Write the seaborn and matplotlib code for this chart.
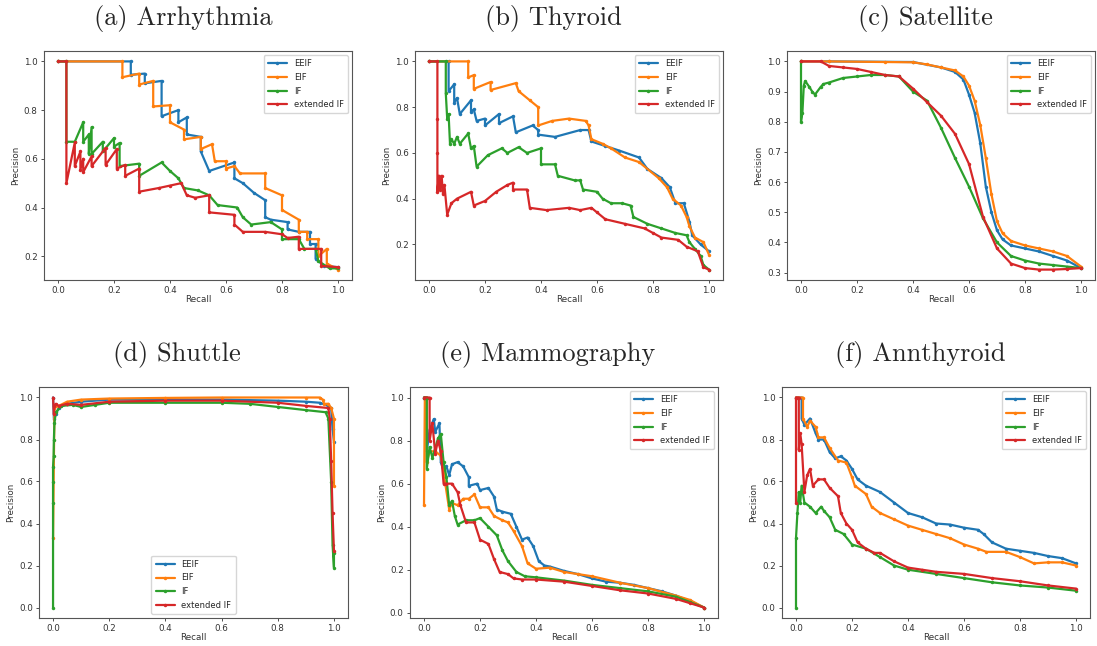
import numpy as np
import pandas as pd
import matplotlib
matplotlib.use("Agg")
import matplotlib.pyplot as plt
import seaborn as sns

sns.set_style("ticks")
plt.rcParams["font.family"] = ["DejaVu Sans"]

methods = ["EEIF", "EIF", "IF", "extended IF"]
titles = ["(a) Arrhythmia", "(b) Thyroid", "(c) Satellite",
          "(d) Shuttle", "(e) Mammography", "(f) Annthyroid"]

# ---------------- (a) Arrhythmia ----------------
arr_eeif_r = [0, 0.26, 0.26, 0.31, 0.31, 0.37, 0.37, 0.43, 0.43, 0.46, 0.46, 0.51, 0.51, 0.54, 0.63, 0.63, 0.66, 0.70, 0.74, 0.74, 0.76, 0.82, 0.82, 0.86, 0.90, 0.90, 0.92, 0.92, 0.95, 1.0]
arr_eeif_p = [1, 1, 0.945, 0.95, 0.91, 0.92, 0.775, 0.80, 0.75, 0.77, 0.70, 0.69, 0.63, 0.55, 0.585, 0.52, 0.50, 0.46, 0.43, 0.36, 0.35, 0.34, 0.31, 0.30, 0.30, 0.25, 0.25, 0.19, 0.16, 0.155]
arr_eif_r = [0, 0.23, 0.23, 0.29, 0.29, 0.34, 0.34, 0.40, 0.40, 0.45, 0.45, 0.51, 0.51, 0.55, 0.56, 0.60, 0.60, 0.63, 0.65, 0.74, 0.74, 0.80, 0.80, 0.86, 0.86, 0.89, 0.89, 0.93, 0.93, 0.96, 0.96, 1.0]
arr_eif_p = [1, 1, 0.935, 0.95, 0.905, 0.92, 0.815, 0.82, 0.75, 0.72, 0.68, 0.69, 0.64, 0.66, 0.59, 0.59, 0.56, 0.57, 0.54, 0.54, 0.48, 0.45, 0.39, 0.35, 0.30, 0.30, 0.27, 0.27, 0.20, 0.23, 0.17, 0.145]
arr_if_r = [0, 0.03, 0.03, 0.06, 0.09, 0.09, 0.11, 0.11, 0.12, 0.12, 0.16, 0.16, 0.20, 0.20, 0.22, 0.22, 0.29, 0.29, 0.37, 0.40, 0.43, 0.45, 0.50, 0.54, 0.57, 0.64, 0.66, 0.69, 0.76, 0.80, 0.80, 0.86, 0.88, 0.92, 0.93, 0.97, 1.0]
arr_if_p = [1, 1, 0.67, 0.67, 0.75, 0.67, 0.70, 0.62, 0.73, 0.62, 0.67, 0.63, 0.685, 0.65, 0.665, 0.57, 0.58, 0.53, 0.585, 0.55, 0.52, 0.48, 0.47, 0.45, 0.41, 0.40, 0.36, 0.33, 0.34, 0.31, 0.27, 0.27, 0.23, 0.23, 0.18, 0.15, 0.15]
arr_ext_r = [0, 0.03, 0.03, 0.06, 0.06, 0.08, 0.08, 0.09, 0.09, 0.12, 0.12, 0.17, 0.17, 0.21, 0.21, 0.24, 0.24, 0.29, 0.29, 0.36, 0.40, 0.44, 0.46, 0.49, 0.54, 0.54, 0.63, 0.63, 0.66, 0.74, 0.80, 0.82, 0.86, 0.86, 0.94, 0.94, 1.0]
arr_ext_p = [1, 1, 0.5, 0.667, 0.57, 0.63, 0.555, 0.60, 0.545, 0.61, 0.57, 0.645, 0.575, 0.64, 0.56, 0.575, 0.53, 0.56, 0.465, 0.48, 0.49, 0.50, 0.45, 0.44, 0.45, 0.38, 0.37, 0.33, 0.30, 0.30, 0.29, 0.275, 0.28, 0.23, 0.23, 0.16, 0.155]

# ---------------- (b) Thyroid ----------------
thy_eeif_r = [0, 0.07, 0.07, 0.09, 0.09, 0.10, 0.11, 0.15, 0.15, 0.16, 0.17, 0.20, 0.20, 0.25, 0.25, 0.30, 0.31, 0.37, 0.39, 0.39, 0.45, 0.54, 0.57, 0.58, 0.63, 0.68, 0.75, 0.78, 0.83, 0.86, 0.88, 0.91, 0.93, 0.94, 0.97, 1.0]
thy_eeif_p = [1, 1, 0.87, 0.90, 0.82, 0.84, 0.77, 0.83, 0.78, 0.79, 0.74, 0.75, 0.72, 0.77, 0.73, 0.76, 0.69, 0.72, 0.70, 0.68, 0.67, 0.70, 0.70, 0.65, 0.63, 0.61, 0.58, 0.53, 0.49, 0.45, 0.38, 0.38, 0.30, 0.24, 0.20, 0.17]
thy_eif_r = [0, 0.14, 0.14, 0.16, 0.16, 0.22, 0.22, 0.31, 0.32, 0.36, 0.39, 0.39, 0.44, 0.50, 0.56, 0.57, 0.58, 0.62, 0.65, 0.70, 0.75, 0.82, 0.85, 0.87, 0.90, 0.92, 0.93, 0.95, 0.98, 1.0]
thy_eif_p = [1, 1, 0.93, 0.94, 0.88, 0.91, 0.875, 0.905, 0.87, 0.83, 0.80, 0.72, 0.74, 0.75, 0.74, 0.72, 0.66, 0.64, 0.62, 0.58, 0.56, 0.49, 0.45, 0.40, 0.37, 0.32, 0.28, 0.23, 0.21, 0.155]
thy_if_r = [0, 0.06, 0.06, 0.065, 0.07, 0.075, 0.08, 0.09, 0.10, 0.11, 0.14, 0.15, 0.16, 0.17, 0.21, 0.26, 0.28, 0.32, 0.35, 0.40, 0.40, 0.45, 0.46, 0.52, 0.54, 0.55, 0.60, 0.62, 0.65, 0.69, 0.72, 0.73, 0.78, 0.83, 0.88, 0.92, 0.93, 0.95, 0.97, 0.98, 1.0]
thy_if_p = [1, 1, 0.86, 0.75, 0.77, 0.64, 0.66, 0.64, 0.67, 0.64, 0.685, 0.62, 0.63, 0.54, 0.59, 0.62, 0.60, 0.625, 0.60, 0.62, 0.55, 0.55, 0.50, 0.48, 0.48, 0.44, 0.43, 0.40, 0.38, 0.38, 0.37, 0.32, 0.29, 0.27, 0.25, 0.24, 0.21, 0.18, 0.15, 0.11, 0.09]
thy_ext_r = [0, 0.03, 0.03, 0.03, 0.03, 0.035, 0.04, 0.045, 0.05, 0.055, 0.065, 0.08, 0.10, 0.15, 0.16, 0.20, 0.24, 0.28, 0.30, 0.30, 0.35, 0.36, 0.42, 0.50, 0.54, 0.58, 0.60, 0.63, 0.70, 0.77, 0.80, 0.83, 0.89, 0.92, 0.96, 0.98, 1.0]
thy_ext_p = [1, 1, 0.75, 0.60, 0.43, 0.50, 0.44, 0.50, 0.42, 0.46, 0.33, 0.38, 0.40, 0.43, 0.37, 0.39, 0.43, 0.46, 0.47, 0.44, 0.44, 0.36, 0.35, 0.36, 0.35, 0.36, 0.34, 0.31, 0.29, 0.27, 0.25, 0.23, 0.22, 0.19, 0.17, 0.10, 0.09]

# ---------------- (c) Satellite ----------------
sat_eeif_r = [0, 0.10, 0.40, 0.50, 0.55, 0.58, 0.60, 0.62, 0.64, 0.66, 0.68, 0.70, 0.72, 0.75, 0.80, 0.85, 0.90, 0.95, 1.0]
sat_eeif_p = [1.0, 1.0, 0.998, 0.98, 0.965, 0.94, 0.89, 0.83, 0.73, 0.585, 0.50, 0.44, 0.41, 0.39, 0.38, 0.37, 0.355, 0.34, 0.315]
sat_eif_r = [0, 0.10, 0.30, 0.40, 0.45, 0.50, 0.55, 0.58, 0.60, 0.62, 0.64, 0.66, 0.68, 0.70, 0.72, 0.75, 0.80, 0.85, 0.90, 0.95, 1.0]
sat_eif_p = [1.0, 1.0, 0.998, 0.997, 0.99, 0.98, 0.97, 0.95, 0.92, 0.87, 0.79, 0.68, 0.56, 0.47, 0.43, 0.405, 0.39, 0.38, 0.37, 0.355, 0.32]
sat_if_r = [0, 0, 0.005, 0.01, 0.015, 0.03, 0.04, 0.05, 0.07, 0.08, 0.10, 0.15, 0.20, 0.25, 0.30, 0.35, 0.40, 0.45, 0.50, 0.55, 0.60, 0.65, 0.70, 0.75, 0.80, 0.85, 0.90, 0.95, 1.0]
sat_if_p = [1.0, 0.80, 0.83, 0.92, 0.935, 0.915, 0.90, 0.89, 0.915, 0.925, 0.93, 0.945, 0.95, 0.955, 0.955, 0.95, 0.90, 0.87, 0.78, 0.68, 0.585, 0.48, 0.40, 0.355, 0.34, 0.33, 0.325, 0.32, 0.315]
sat_ext_r = [0, 0.07, 0.10, 0.15, 0.20, 0.25, 0.30, 0.35, 0.40, 0.45, 0.50, 0.55, 0.60, 0.65, 0.70, 0.75, 0.80, 0.85, 0.90, 0.95, 1.0]
sat_ext_p = [1.0, 1.0, 0.985, 0.98, 0.975, 0.965, 0.955, 0.95, 0.91, 0.865, 0.82, 0.76, 0.66, 0.485, 0.38, 0.33, 0.315, 0.31, 0.31, 0.312, 0.315]

# ---------------- (d) Shuttle ----------------
shu_eeif_r = [0, 0.003, 0.01, 0.02, 0.05, 0.10, 0.20, 0.40, 0.60, 0.80, 0.90, 0.95, 0.98, 0.99, 0.995, 1.0]
shu_eeif_p = [1.0, 0.90, 0.92, 0.95, 0.97, 0.98, 0.99, 0.99, 0.99, 0.985, 0.98, 0.975, 0.96, 0.95, 0.85, 0.79]
shu_eif_r = [0, 0.005, 0.05, 0.10, 0.20, 0.40, 0.60, 0.90, 0.95, 0.96, 0.965, 0.98, 0.99, 1.0, 1.0]
shu_eif_p = [0.33, 0.95, 0.98, 0.99, 0.995, 0.998, 1.0, 1.0, 1.0, 0.99, 0.97, 0.97, 0.95, 0.90, 0.58]
shu_if_r = [0, 0, 0, 0, 0.002, 0.003, 0.005, 0.01, 0.03, 0.07, 0.10, 0.15, 0.20, 0.40, 0.60, 0.70, 0.80, 0.90, 0.97, 0.98, 0.99, 0.995, 1.0, 1.0]
shu_if_p = [0.0, 0.50, 0.60, 0.67, 0.72, 0.80, 0.88, 0.93, 0.96, 0.965, 0.955, 0.965, 0.975, 0.975, 0.975, 0.97, 0.955, 0.94, 0.93, 0.90, 0.60, 0.30, 0.19, 0.26]
shu_ext_r = [0, 0.003, 0.005, 0.01, 0.02, 0.05, 0.10, 0.20, 0.40, 0.60, 0.80, 0.90, 0.98, 0.985, 0.99, 0.995, 1.0]
shu_ext_p = [1.0, 0.92, 0.96, 0.97, 0.96, 0.97, 0.965, 0.98, 0.985, 0.985, 0.975, 0.96, 0.95, 0.90, 0.70, 0.45, 0.27]

# ---------------- (e) Mammography ----------------
mam_eeif_r = [0, 0.01, 0.01, 0.02, 0.035, 0.04, 0.055, 0.06, 0.07, 0.08, 0.09, 0.10, 0.12, 0.14, 0.16, 0.16, 0.19, 0.20, 0.23, 0.25, 0.26, 0.28, 0.31, 0.33, 0.35, 0.37, 0.39, 0.41, 0.43, 0.45, 0.50, 0.55, 0.60, 0.65, 0.70, 0.75, 0.80, 0.85, 0.90, 0.95, 1.0]
mam_eeif_p = [1.0, 1.0, 0.75, 0.85, 0.90, 0.84, 0.88, 0.70, 0.66, 0.68, 0.64, 0.69, 0.70, 0.68, 0.63, 0.59, 0.60, 0.57, 0.58, 0.54, 0.48, 0.47, 0.46, 0.40, 0.34, 0.35, 0.31, 0.24, 0.22, 0.215, 0.195, 0.18, 0.16, 0.145, 0.14, 0.13, 0.115, 0.10, 0.08, 0.055, 0.025]
mam_eif_r = [0, 0.003, 0.01, 0.01, 0.02, 0.04, 0.06, 0.07, 0.09, 0.10, 0.12, 0.14, 0.16, 0.18, 0.20, 0.23, 0.25, 0.28, 0.30, 0.32, 0.35, 0.37, 0.40, 0.45, 0.50, 0.55, 0.60, 0.70, 0.80, 0.90, 0.95, 1.0]
mam_eif_p = [0.50, 1.0, 1.0, 0.70, 0.75, 0.75, 0.73, 0.65, 0.48, 0.51, 0.50, 0.53, 0.53, 0.55, 0.49, 0.49, 0.45, 0.43, 0.42, 0.38, 0.31, 0.23, 0.205, 0.21, 0.19, 0.18, 0.17, 0.14, 0.115, 0.08, 0.06, 0.025]
mam_if_r = [0, 0.01, 0.01, 0.02, 0.03, 0.05, 0.06, 0.07, 0.08, 0.09, 0.10, 0.11, 0.12, 0.15, 0.18, 0.20, 0.23, 0.26, 0.28, 0.30, 0.33, 0.36, 0.40, 0.50, 0.60, 0.70, 0.80, 0.90, 0.95, 1.0]
mam_if_p = [1.0, 1.0, 0.67, 0.77, 0.72, 0.81, 0.83, 0.70, 0.63, 0.50, 0.52, 0.45, 0.41, 0.43, 0.43, 0.44, 0.40, 0.36, 0.29, 0.24, 0.19, 0.17, 0.165, 0.15, 0.13, 0.115, 0.10, 0.075, 0.05, 0.025]
mam_ext_r = [0, 0.02, 0.02, 0.03, 0.04, 0.05, 0.06, 0.07, 0.08, 0.10, 0.12, 0.13, 0.15, 0.18, 0.20, 0.23, 0.25, 0.27, 0.30, 0.32, 0.35, 0.40, 0.50, 0.60, 0.70, 0.80, 0.90, 0.95, 1.0]
mam_ext_p = [1.0, 1.0, 0.80, 0.88, 0.74, 0.80, 0.75, 0.60, 0.60, 0.60, 0.56, 0.50, 0.42, 0.42, 0.34, 0.32, 0.25, 0.19, 0.18, 0.16, 0.155, 0.155, 0.145, 0.125, 0.105, 0.09, 0.065, 0.045, 0.025]

# ---------------- (f) Annthyroid ----------------
ann_eeif_r = [0, 0.02, 0.02, 0.03, 0.05, 0.07, 0.08, 0.10, 0.12, 0.14, 0.16, 0.18, 0.20, 0.22, 0.25, 0.30, 0.35, 0.40, 0.45, 0.50, 0.55, 0.60, 0.65, 0.67, 0.70, 0.75, 0.80, 0.85, 0.90, 0.95, 1.0]
ann_eeif_p = [1.0, 1.0, 0.90, 0.87, 0.90, 0.83, 0.80, 0.80, 0.74, 0.71, 0.72, 0.70, 0.66, 0.61, 0.58, 0.55, 0.50, 0.45, 0.43, 0.40, 0.395, 0.38, 0.37, 0.35, 0.31, 0.28, 0.27, 0.26, 0.245, 0.235, 0.21]
ann_eif_r = [0, 0.025, 0.025, 0.04, 0.05, 0.07, 0.08, 0.10, 0.12, 0.15, 0.18, 0.20, 0.21, 0.25, 0.27, 0.30, 0.35, 0.40, 0.45, 0.50, 0.55, 0.60, 0.65, 0.68, 0.75, 0.80, 0.85, 0.90, 0.95, 1.0]
ann_eif_p = [1.0, 1.0, 0.90, 0.86, 0.89, 0.86, 0.81, 0.81, 0.76, 0.70, 0.69, 0.62, 0.58, 0.54, 0.48, 0.45, 0.42, 0.39, 0.37, 0.35, 0.33, 0.30, 0.28, 0.265, 0.265, 0.24, 0.21, 0.215, 0.215, 0.20]
ann_if_r = [0, 0, 0.005, 0.01, 0.015, 0.02, 0.03, 0.05, 0.07, 0.09, 0.10, 0.12, 0.14, 0.17, 0.20, 0.25, 0.30, 0.35, 0.40, 0.50, 0.60, 0.70, 0.80, 0.90, 1.0]
ann_if_p = [0.0, 0.33, 0.45, 0.55, 0.50, 0.58, 0.50, 0.48, 0.45, 0.48, 0.46, 0.43, 0.37, 0.35, 0.30, 0.28, 0.24, 0.20, 0.18, 0.16, 0.14, 0.12, 0.105, 0.095, 0.08]
ann_ext_r = [0, 0, 0.01, 0.01, 0.015, 0.02, 0.03, 0.04, 0.05, 0.06, 0.08, 0.10, 0.12, 0.15, 0.16, 0.18, 0.20, 0.22, 0.25, 0.28, 0.30, 0.35, 0.40, 0.45, 0.50, 0.60, 0.70, 0.80, 0.90, 1.0]
ann_ext_p = [0.50, 1.0, 1.0, 0.75, 0.83, 0.78, 0.55, 0.63, 0.66, 0.58, 0.61, 0.61, 0.57, 0.53, 0.45, 0.40, 0.37, 0.31, 0.28, 0.26, 0.26, 0.22, 0.19, 0.18, 0.17, 0.16, 0.14, 0.125, 0.105, 0.09]

panels = [
    [(arr_eeif_r, arr_eeif_p), (arr_eif_r, arr_eif_p), (arr_if_r, arr_if_p), (arr_ext_r, arr_ext_p)],
    [(thy_eeif_r, thy_eeif_p), (thy_eif_r, thy_eif_p), (thy_if_r, thy_if_p), (thy_ext_r, thy_ext_p)],
    [(sat_eeif_r, sat_eeif_p), (sat_eif_r, sat_eif_p), (sat_if_r, sat_if_p), (sat_ext_r, sat_ext_p)],
    [(shu_eeif_r, shu_eeif_p), (shu_eif_r, shu_eif_p), (shu_if_r, shu_if_p), (shu_ext_r, shu_ext_p)],
    [(mam_eeif_r, mam_eeif_p), (mam_eif_r, mam_eif_p), (mam_if_r, mam_if_p), (mam_ext_r, mam_ext_p)],
    [(ann_eeif_r, ann_eeif_p), (ann_eif_r, ann_eif_p), (ann_if_r, ann_if_p), (ann_ext_r, ann_ext_p)],
]

W, H = 1097, 646
fig = plt.figure(figsize=(W / 100, H / 100), dpi=100)

# axes boxes in pixels: left, top, right, bottom
boxes = [(44, 51, 352, 280), (415, 51, 723, 280), (787, 51, 1095, 280),
         (39, 387, 348, 618), (410, 387, 718, 618), (782, 387, 1090, 618)]
title_pos = [(183, 18), (553, 18), (925, 18), (177, 355), (548, 355), (920, 355)]
legend_loc = ["upper right"] * 3 + ["lower center", "upper right", "upper right"]

colors = sns.color_palette("tab10", 4)

for i, (box, series) in enumerate(zip(boxes, panels)):
    l, t, r, b = box
    ax = fig.add_axes([l / W, 1 - b / H, (r - l) / W, (b - t) / H])
    for j, (rec, prec) in enumerate(series):
        df = pd.DataFrame({"Recall": rec, "Precision": prec})
        sns.lineplot(data=df, x="Recall", y="Precision", ax=ax, sort=False,
                     estimator=None, color=colors[j], label=methods[j],
                     marker=".", markersize=5, markeredgewidth=0,
                     linewidth=1.6)
    ax.set_xticks([0, 0.2, 0.4, 0.6, 0.8, 1.0])
    ax.tick_params(labelsize=6.3, length=2.5, width=0.6, pad=2, colors="#333333")
    ax.set_xlabel("Recall", fontsize=6.3, labelpad=0, color="#333333")
    ax.set_ylabel("Precision", fontsize=6.3, labelpad=3, color="#333333")
    for s in ax.spines.values():
        s.set_linewidth(0.8)
        s.set_color("#555555")
        s.set_visible(True)
    ax.legend(loc=legend_loc[i], fontsize=6, frameon=True, handlelength=2.3,
              borderpad=0.5, labelspacing=0.55)
    tx, ty = title_pos[i]
    fig.text(tx / W, 1 - ty / H, titles[i], ha="center", va="center",
             fontsize=19, family="cmr10")

fig.savefig("out.png", dpi=100)
